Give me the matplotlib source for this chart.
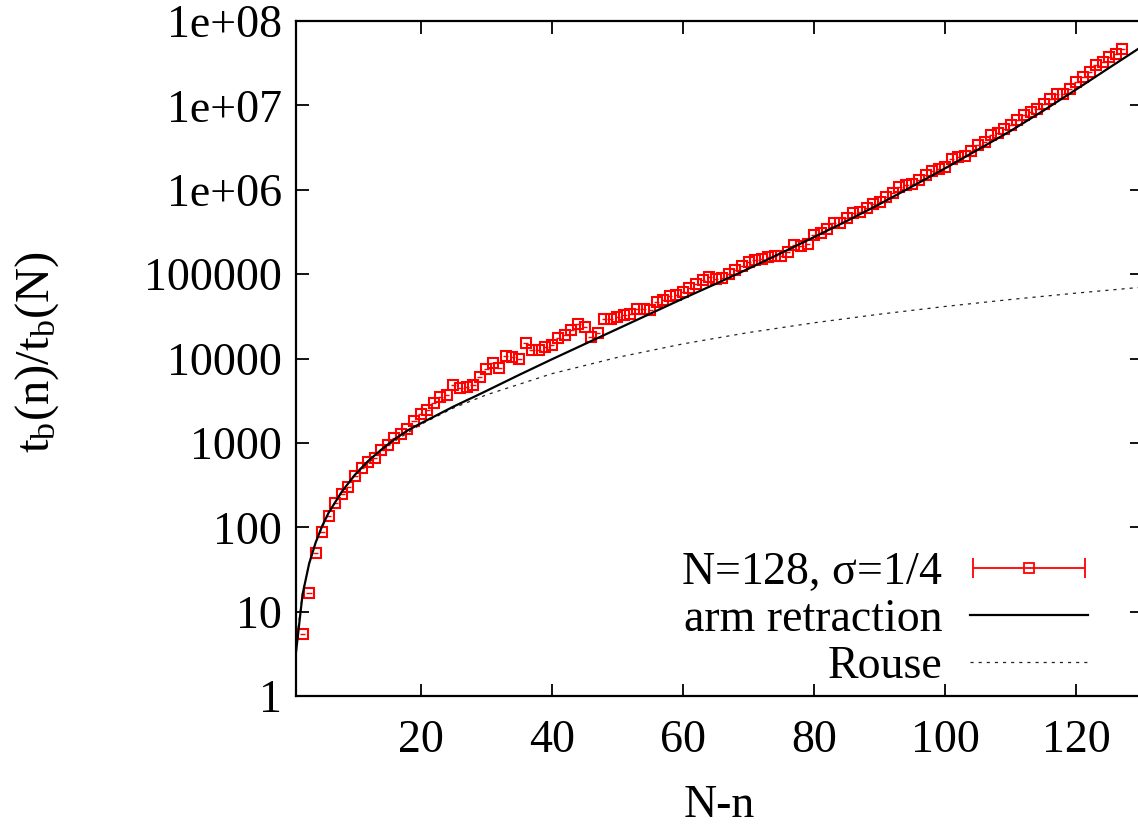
import numpy as np
import matplotlib.pyplot as plt
from matplotlib.legend_handler import HandlerErrorbar

plt.rcParams['font.family'] = ['Liberation Serif', 'DejaVu Serif']
plt.rcParams['mathtext.fontset'] = 'custom'
plt.rcParams['mathtext.rm'] = 'Liberation Serif'
plt.rcParams['mathtext.it'] = 'Liberation Serif:italic'

# simulation data, N=128, sigma=1/4  (N-n, t_b(n)/t_b(N))
n_sim = list(range(2, 128))
tb_sim = [
    5.5, 16.5, 49, 88, 137, 192, 245, 302, 404, 499,
    597, 655, 822, 934, 1130, 1290, 1480, 1830, 2180, 2450,
    2940, 3520, 3680, 4840, 4420, 4620, 4840, 6070, 7430, 8750,
    7640, 10700, 10300, 10000, 15100, 12600, 12600, 13800, 14500, 17300,
    19000, 21700, 25800, 23400, 18100, 20100, 29000, 29000, 31200, 33000,
    34100, 39000, 39000, 37500, 46900, 49300, 55000, 56600, 62000, 68000,
    76000, 85000, 92000, 88000, 90000, 100000, 112000, 125000, 140000, 147000,
    150000, 160000, 162000, 166000, 185000, 219000, 214000, 230000, 290000, 305000,
    347000, 405000, 405000, 457000, 525000, 550000, 600000, 676000, 720000, 825000,
    906000, 1.08e6, 1.13e6, 1.18e6, 1.29e6, 1.5e6, 1.68e6, 1.78e6, 1.87e6, 2.3e6,
    2.45e6, 2.5e6, 2.85e6, 3.4e6, 3.7e6, 4.45e6, 4.7e6, 5.3e6, 5.8e6, 6.8e6,
    7.6e6, 8.3e6, 9.1e6, 1.05e7, 1.2e7, 1.38e7, 1.38e7, 1.58e7, 1.9e7, 2.14e7,
    2.5e7, 3.0e7, 3.3e7, 3.75e7, 4.1e7, 4.7e7,
]
err_sim = 0.4

# arm retraction prediction
n_arm = [1, 2, 3, 4, 5, 6, 8, 10, 12, 14, 16, 18, 20, 22, 25, 28, 30, 35, 40, 45,
         50, 55, 60, 65, 70, 75, 80, 85, 90, 95, 100, 105, 110, 115, 120, 125, 130]
tb_arm = [3.3, 16, 37, 66, 104, 150, 265, 420, 610, 830, 1100, 1400, 1700, 2040, 2690,
          3470, 4120, 6380, 9770, 14800, 22400, 33900, 51300, 76700, 116000, 178000,
          275000, 427000, 676000, 1.1e6, 1.8e6, 2.99e6, 5.0e6, 8.7e6, 1.55e7, 2.79e7, 5.0e7]

# Rouse prediction
n_rouse = [1, 2, 3, 4, 6, 8, 10, 15, 20, 25, 30, 40, 50, 60, 70, 80, 90, 100, 110, 120, 130]
tb_rouse = [4.1, 16.5, 37, 66, 149, 265, 414, 930, 1650, 2590, 3700, 6600, 10300, 14900,
            20300, 26500, 33500, 41400, 50100, 59600, 70000]

y_ticks = [1, 10, 100, 1000, 1e4, 1e5, 1e6, 1e7, 1e8]
y_labels = ['1', '10', '100', '1000', '10000', '100000', '1e+06', '1e+07', '1e+08']
x_ticks = [20, 40, 60, 80, 100, 120]

fs = 33
W, H = 1138, 831
fig = plt.figure(figsize=(W / 100, H / 100), dpi=100)
ax = fig.add_axes([296 / W, 1 - 696 / H, (1142 - 296) / W, (696 - 21) / H])

ax.errorbar(n_sim, tb_sim, xerr=err_sim, fmt='s', color='red', mfc='none',
            ms=7.5, mew=1.5, elinewidth=1.0, capsize=0, zorder=3)
ax.plot(n_arm, tb_arm, color='black', lw=1.6, zorder=4)
ax.plot(n_rouse, tb_rouse, color='#222222', lw=0.9, ls=(0, (2.5, 4)), zorder=2)

# legend proxies
h_sim = ax.errorbar([np.nan], [np.nan], xerr=[1], fmt='s', color='red', mfc='none',
                    ms=7.5, mew=1.3, elinewidth=1.3, capsize=7,
                    label=r'N=128, $\mathregular{\sigma}$=1/4')
h_arm, = ax.plot([], [], color='black', lw=1.6, label='arm retraction')
h_rouse, = ax.plot([], [], color='#222222', lw=0.9, ls=(0, (2.5, 4)), label='Rouse')

ax.set_yscale('log')
ax.set_xlim(1, 130)
ax.set_ylim(1, 1e8)
ax.set_yticks(y_ticks, y_labels)
ax.yaxis.set_minor_locator(plt.matplotlib.ticker.LogLocator(base=10, subs=[2, 5, 8]))
ax.yaxis.set_minor_formatter(plt.NullFormatter())
ax.set_xticks(x_ticks)

ax.tick_params(which='both', direction='in', top=True, right=True, width=1.3,
               labelsize=fs)
ax.tick_params(which='major', length=9)
ax.tick_params(which='minor', length=5)
ax.tick_params(axis='y', pad=10)
ax.tick_params(axis='x', pad=17)
for s in ax.spines.values():
    s.set_linewidth(1.6)

ax.set_xlabel('N-n', fontsize=fs, labelpad=16)
ax.set_ylabel(r'$\mathregular{t_b(n)/t_b(N)}$', fontsize=35)
ax.yaxis.set_label_coords(-0.278, 0.51)

leg = ax.legend(handles=[h_sim, h_arm, h_rouse], loc='lower right',
                bbox_to_anchor=(1088 / W, 1 - 688 / H), bbox_transform=fig.transFigure,
                frameon=False, markerfirst=False, fontsize=fs, handlelength=2.58,
                handletextpad=0.6, labelspacing=0.1, borderpad=0, borderaxespad=0,
                handler_map={h_sim: HandlerErrorbar(xerr_size=1.22)})
for t in leg.get_texts():
    t.set_ha('right')

fig.savefig('out.png', dpi=100)
